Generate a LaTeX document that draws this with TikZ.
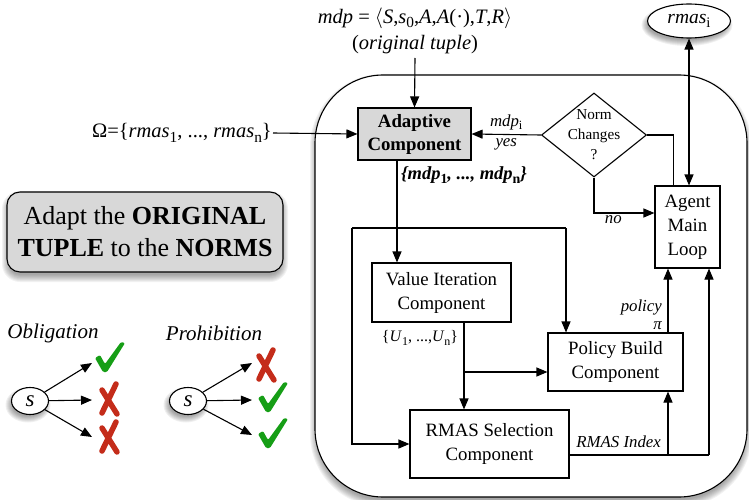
\documentclass[tikz,border=0pt]{standalone}
\usepackage{fontspec}
\setmainfont{Liberation Serif}
\usepackage{graphicx}
\usetikzlibrary{shapes.geometric,arrows.meta,calc}

\definecolor{boxgray}{RGB}{216,216,216}
\definecolor{okgreen}{RGB}{22,158,22}
\definecolor{nored}{RGB}{196,44,26}

% lowered, upright subscript in the current text font
\newcommand\lo[1]{\raisebox{-0.45ex}{\scalebox{0.75}{\upshape #1}}}
\newcommand\fs[2]{\fontsize{#1}{#2}\selectfont}

% soft shadow under a rounded rectangle: x1,y1,x2,y2,radius
\newcommand\rectshadow[5]{%
  \foreach \k in {0,...,7}{%
    \fill[black,opacity=0.05,rounded corners={#5+\k-2}]
      ({#1-\k+2},{#2-\k+6}) rectangle ({#3+\k-2},{#4+\k+3});}}
% soft shadow under an ellipse: cx,cy,rx,ry
\newcommand\ovalshadow[4]{%
  \foreach \k in {0,...,6}{%
    \fill[black,opacity=0.06] ({#1-2},{#2+4}) ellipse [x radius={#3+\k-2}, y radius={#4+\k-2}];}}

\tikzset{
  flow/.style={line width=1.1pt},
  arr/.style={flow, -{Triangle[length=11pt,width=9pt]}},
  dblarr/.style={flow, {Triangle[length=11pt,width=9pt]}-{Triangle[length=11pt,width=9pt]}},
  comp/.style={draw, line width=1.1pt, fill=white, align=center, inner sep=0pt, font=\fs{18.8}{24}},
  lbl/.style={font=\fs{16.8}{18}\itshape, inner sep=1pt},
  oval/.style={draw, ellipse, line width=1.1pt, fill=white, inner sep=0pt},
  pics/chk/.style={code={
    \fill[okgreen, rounded corners=1.2pt] (-15,1) -- (-10,-2) -- (-5,7) -- (11,-15)
      -- (15,-14) -- (-3,15) -- (-7,15) -- cycle;}},
  pics/crs/.style={code={
    \draw[nored, line width=5.5pt, line cap=round] (7,-15) -- (-7,14) (-7,-9) -- (8,15);}},
}

\begin{document}
\begin{tikzpicture}[x=1pt,y=-1pt]
\useasboundingbox (0,0) rectangle (749,500);

% ---- agent frame ----
\rectshadow{315}{75}{747}{497}{68}
\draw[line width=1.1pt, fill=white, rounded corners=68] (315,75) rectangle (747,497);

% ---- note box ----
\rectshadow{7}{192}{283}{272}{13}
\node[draw, line width=1.1pt, fill=boxgray, rounded corners=13, minimum width=276pt,
      minimum height=80pt, align=center, font=\fs{26}{32}, inner sep=0pt] (note) at (145,232)
  {Adapt the \textbf{ORIGINAL}\\\textbf{TUPLE} to the \textbf{NORMS}};

% ---- components ----
\node[comp, fill=boxgray, font=\fs{18.8}{23}\bfseries, minimum width=113pt, minimum height=52pt]
  (adapt) at (414.5,134) {Adaptive\\Component};
\node[comp, minimum width=139pt, minimum height=59pt] (vi) at (441.5,292.5) {Value Iteration\\Component};
\node[comp, minimum width=135pt, minimum height=58pt] (pb) at (615.5,362) {Policy Build\\Component};
\node[comp, minimum width=159pt, minimum height=68pt] (rs) at (489.5,444) {RMAS Selection\\Component};
\node[comp, minimum width=65pt, minimum height=82pt] (agent) at (687.5,227) {Agent\\Main\\Loop};
\node[draw, diamond, line width=1.1pt, fill=white, minimum width=105pt, minimum height=84pt,
      inner sep=0pt, label={[align=center, font=\fs{15.2}{20}]center:Norm\\Changes\\?}] (nc) at (594,135) {};

\ovalshadow{689}{21}{41.5}{17}
\node[oval, minimum width=83pt, minimum height=34pt, font=\fs{19.5}{20}\itshape] (rmas) at (689,21) {rmas\lo{i}};

% ---- free texts ----
\node[anchor=south, align=center, font=\fs{20.5}{26}, inner sep=4pt] (tuple) at (415,58)
  {\textit{mdp} = $\langle$\textit{S},\textit{s}\lo{0},\textit{A},\textit{A}(·),\textit{T},\textit{R}$\rangle$\\(\textit{original tuple})};
\node[anchor=east, font=\fs{20.5}{22}, inner sep=1pt] (omega) at (273,133)
  {Ω=\{\textit{rmas}\lo{1}, ..., \textit{rmas}\lo{n}\}};
\node[anchor=west, font=\fs{18.5}{20}\bfseries\itshape, inner sep=1pt] (mdps) at (400,175)
  {\{mdp\lo{1}, ..., mdp\lo{n}\}};
\node[lbl, font=\fs{16}{17}] (ulbl) at (420,338) {\{\textit{U}\lo{1}, ...,\textit{U}\lo{n}\}};
\node[lbl, anchor=east, align=right] (pol) at (663,315) {policy\\π};
\node[lbl, anchor=base east] (idx) at (662,447) {RMAS Index};

% ---- connectors ----
\draw[arr] (tuple.south) -- (adapt.north);
\draw[arr] (omega.east) -- (adapt.west);

\coordinate (j) at (397,228);
\coordinate (jl) at (352,228);
\coordinate (jr) at (566,228);
\draw[arr] (adapt.south -| j) -- (j |- vi.north);
\draw[flow] (jl) -- (jr);
\draw[arr] (jl) |- (rs.west);
\draw[arr] (jr) -- (jr |- pb.north);

\coordinate (uj) at (464,372);
\draw[arr] (uj |- vi.south) -- (uj |- rs.north);
\draw[arr] (uj) -- (uj -| pb.west);

\coordinate (rx) at (668,455);
\coordinate (rr) at (709,455);
\draw[flow] (rs.east |- rx) -- (rr);
\draw[arr] (rr) -- (rr |- agent.south);
\draw[arr] (rx) -- (rx |- pb.south);
\draw[arr] (rx |- pb.north) -- (rx |- agent.south);

\draw[arr] (nc.west) -- node[lbl, above=3pt]{mdp\lo{i}} node[lbl, below=3pt]{yes} (adapt.east);
\draw[flow] (nc.east) -| ($(agent.north west)+(19,0)$);
\draw[arr] (nc.south) |- ($(agent.west)+(0,-14)$) node[lbl, pos=0.66, below=1pt]{no};
\draw[dblarr] (rmas.south) -- (rmas.south |- agent.north);

% ---- norm examples ----
\node[font=\fs{21}{22}\itshape] (oblig) at (53,333) {Obligation};
\node[font=\fs{21}{22}\itshape] (prohib) at (214,333) {Prohibition};

\ovalshadow{30}{401}{18.5}{13.5}
\ovalshadow{188}{401}{18.5}{13.5}
\node[oval, minimum width=37pt, minimum height=27pt, font=\fs{23}{24}\itshape] (s1) at (30,401) {s};
\node[oval, minimum width=37pt, minimum height=27pt, font=\fs{23}{24}\itshape] (s2) at (188,401) {s};

\coordinate (o1) at (92,363);
\coordinate (o2) at (92,400);
\coordinate (o3) at (92,437);
\coordinate (p1) at (252,363);
\coordinate (p2) at (252,400);
\coordinate (p3) at (252,435);
\draw[arr] (s1) -- (o1);
\draw[arr] (s1) -- (o2);
\draw[arr] (s1) -- (o3);
\draw[arr] (s2) -- (p1);
\draw[arr] (s2) -- (p2);
\draw[arr] (s2) -- (p3);

\pic at (110,357) {chk};
\pic at (109,399) {crs};
\pic at (109,437) {crs};
\pic at (266,365) {crs};
\pic at (273,397) {chk};
\pic at (273,433) {chk};
\end{tikzpicture}
\end{document}
